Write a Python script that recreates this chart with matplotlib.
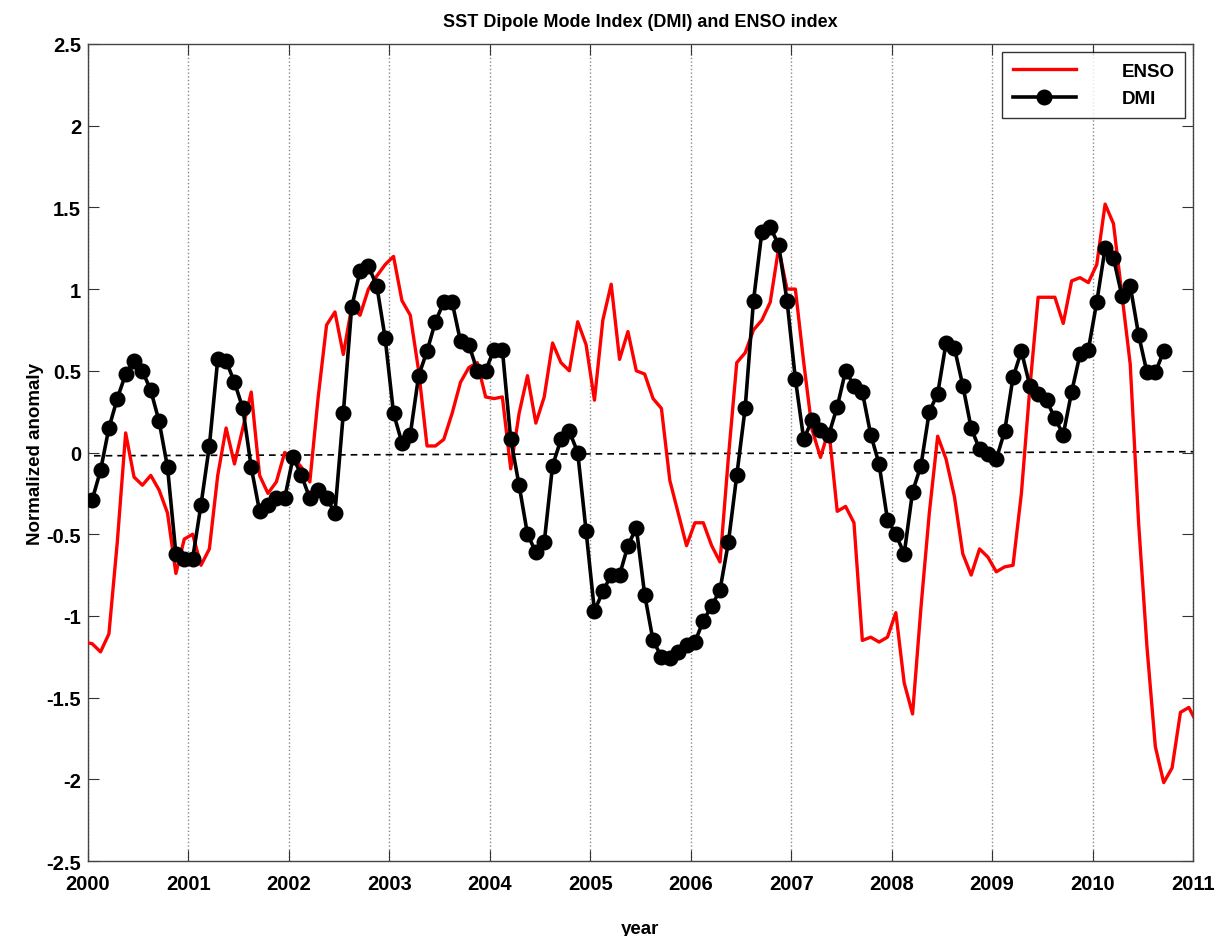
import numpy as np
import matplotlib
matplotlib.use("Agg")
import matplotlib.pyplot as plt

plt.rcParams['font.family'] = ['Liberation Sans', 'DejaVu Sans']
plt.rcParams['font.weight'] = 'bold'

# ENSO index, monthly, mid-month values from Dec 1999 to Jan 2011
enso = [-1.16,
        -1.17, -1.22, -1.11, -0.55, 0.12, -0.15, -0.20, -0.14, -0.23, -0.37, -0.74, -0.53,
        -0.50, -0.69, -0.59, -0.14, 0.15, -0.07, 0.15, 0.37, -0.14, -0.25, -0.18, 0.00,
        -0.03, -0.09, -0.18, 0.34, 0.78, 0.86, 0.60, 0.89, 0.84, 1.00, 1.08, 1.15,
        1.20, 0.93, 0.84, 0.50, 0.04, 0.04, 0.08, 0.24, 0.43, 0.52, 0.55, 0.34,
        0.33, 0.34, -0.10, 0.24, 0.47, 0.18, 0.34, 0.67, 0.55, 0.50, 0.80, 0.66,
        0.32, 0.81, 1.03, 0.57, 0.74, 0.50, 0.48, 0.33, 0.27, -0.17, -0.37, -0.57,
        -0.43, -0.43, -0.57, -0.67, -0.03, 0.55, 0.61, 0.75, 0.81, 0.92, 1.25, 1.00,
        1.00, 0.55, 0.14, -0.03, 0.14, -0.36, -0.33, -0.43, -1.15, -1.13, -1.16, -1.13,
        -0.98, -1.41, -1.60, -0.95, -0.37, 0.10, -0.04, -0.27, -0.62, -0.75, -0.59, -0.64,
        -0.73, -0.70, -0.69, -0.25, 0.39, 0.95, 0.95, 0.95, 0.79, 1.05, 1.07, 1.04,
        1.15, 1.52, 1.40, 0.97, 0.54, -0.43, -1.19, -1.80, -2.02, -1.93, -1.59, -1.56,
        -1.66]

# DMI, monthly, mid-month values from Jan 2000 to Sep 2010
dmi = [-0.29, -0.11, 0.15, 0.33, 0.48, 0.56, 0.50, 0.38, 0.19, -0.09, -0.62, -0.65,
       -0.65, -0.32, 0.04, 0.57, 0.56, 0.43, 0.27, -0.09, -0.36, -0.32, -0.28, -0.28,
       -0.03, -0.14, -0.28, -0.23, -0.28, -0.37, 0.24, 0.89, 1.11, 1.14, 1.02, 0.70,
       0.24, 0.06, 0.11, 0.47, 0.62, 0.80, 0.92, 0.92, 0.68, 0.66, 0.50, 0.50,
       0.63, 0.63, 0.08, -0.20, -0.50, -0.61, -0.55, -0.08, 0.08, 0.13, 0.00, -0.48,
       -0.97, -0.85, -0.75, -0.75, -0.57, -0.46, -0.87, -1.15, -1.25, -1.26, -1.22, -1.18,
       -1.16, -1.03, -0.94, -0.84, -0.55, -0.14, 0.27, 0.93, 1.35, 1.38, 1.27, 0.93,
       0.45, 0.08, 0.20, 0.14, 0.11, 0.28, 0.50, 0.41, 0.37, 0.11, -0.07, -0.41,
       -0.50, -0.62, -0.24, -0.08, 0.25, 0.36, 0.67, 0.64, 0.41, 0.15, 0.02, -0.01,
       -0.04, 0.13, 0.46, 0.62, 0.41, 0.36, 0.32, 0.21, 0.11, 0.37, 0.60, 0.63,
       0.92, 1.25, 1.19, 0.96, 1.02, 0.72, 0.49, 0.49, 0.62]

# reference (near zero) line
ref_x = [2000.06, 2011.0]
ref_y = [-0.02, 0.005]

years = np.arange(2000, 2012)
yticks = np.arange(-2.5, 2.51, 0.5)

t_enso = 2000 + (np.arange(len(enso)) - 0.5) / 12.0
t_dmi = 2000 + (np.arange(len(dmi)) + 0.5) / 12.0

fig = plt.figure(figsize=(12.27, 9.37), dpi=100)
ax = fig.add_axes([0.0717, 0.080, 0.9006, 0.872])

ax.plot(t_enso, enso, color='red', lw=2.4, label='ENSO', zorder=3)
ax.plot(t_dmi, dmi, color='black', lw=2.6, marker='o', ms=10.5, label='DMI', zorder=4)
ax.plot(ref_x, ref_y, color='black', lw=1.2, ls=(0, (4, 3)), zorder=2)

ax.set_xlim(2000, 2011)
ax.set_ylim(-2.5, 2.5)
ax.set_xticks(years)
ax.set_yticks(yticks)
ax.set_yticklabels(['%g' % v for v in yticks])
ax.xaxis.grid(True, ls=':', color='#888888', lw=1.0)
ax.tick_params(direction='in', length=8, width=0.8, top=True, right=True,
               labelsize=14.5, colors='#333333', labelcolor='black')
ax.tick_params(axis='x', pad=9)
ax.tick_params(axis='y', pad=5)
for s in ax.spines.values():
    s.set_color('#444444')
    s.set_linewidth(1.0)
for lab in ax.get_xticklabels() + ax.get_yticklabels():
    lab.set_fontweight('bold')

ax.set_title('SST Dipole Mode Index (DMI) and ENSO index', fontsize=13, fontweight='bold', pad=13)
ax.set_xlabel('year', fontsize=13.5, fontweight='bold', labelpad=20)
ax.set_ylabel('Normalized anomaly', fontsize=13.5, fontweight='bold', labelpad=2)

leg = ax.legend(loc='upper right', fontsize=13.5, frameon=True, fancybox=False,
                edgecolor='black', handlelength=3.4, borderaxespad=0.45,
                labelspacing=0.55, handletextpad=2.4, borderpad=0.55)
leg.get_frame().set_linewidth(1.0)
for txt in leg.get_texts():
    txt.set_fontweight('bold')

fig.savefig('out.png', dpi=100)
